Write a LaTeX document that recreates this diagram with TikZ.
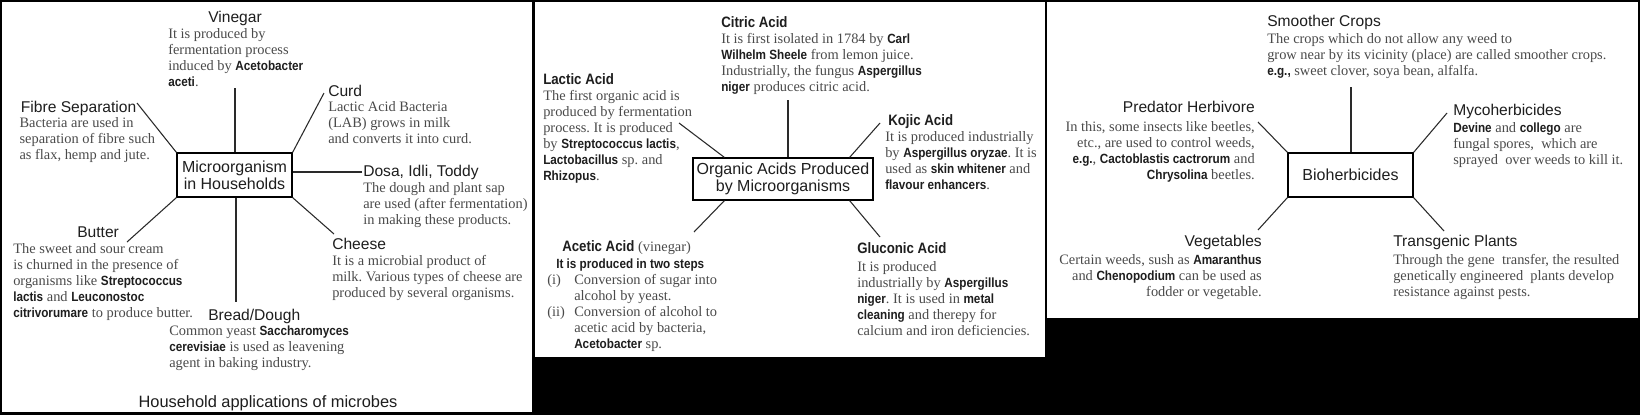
\documentclass[tikz,border=0pt]{standalone}
\usepackage{fontspec}
\setmainfont{Liberation Serif}
\setsansfont{Liberation Sans}
\newfontfamily\nsans[FakeStretch=0.88]{Liberation Sans}
\usetikzlibrary{calc}
\frenchspacing
\definecolor{bodyc}{HTML}{4A4A4A}
\definecolor{titlec}{HTML}{1E1E1E}
\definecolor{linec}{HTML}{2A2A2A}
\newcommand{\bw}[1]{{\fontsize{10}{12}\nsans\bfseries\color{titlec}#1}}
\newcommand{\blkL}[1]{\begin{tabular}[t]{@{}l@{}}#1\end{tabular}}
\newcommand{\blkR}[1]{\begin{tabular}[t]{@{}r@{}}#1\end{tabular}}
\newcommand{\itm}[1]{\makebox[20.25pt][l]{#1}}
\newcommand{\itn}{\hspace*{20.25pt}}
\tikzset{
  body/.style={font=\frenchspacing\fontsize{10.8}{12}\selectfont, text=bodyc, inner sep=0pt, anchor=base west},
  bodyr/.style={body, anchor=base east},
  ttl/.style={font=\sffamily\fontsize{11.7}{14}\selectfont, text=titlec, inner sep=0pt, anchor=base west},
  ttlr/.style={ttl, anchor=base east},
  ttlb/.style={font=\nsans\bfseries\fontsize{11.3}{14}\selectfont, text=titlec, inner sep=0pt, anchor=base west},
  hub/.style={draw=black, line width=0.9pt, fill=white, inner sep=0pt, align=center,
    font=\sffamily\fontsize{12}{12.75}\selectfont, text=titlec},
  conn/.style={draw=linec, line width=0.8pt}
}
\begin{document}
\begin{tikzpicture}[x=0.75pt,y=-0.75pt]
\useasboundingbox (0,0) rectangle (1640,415);
\fill[black] (0,0) rectangle (1640,415);
\fill[white] (2,2) rectangle (532,412);
\fill[white] (535,2) rectangle (1045,357);
\fill[white] (1047,2) rectangle (1638,318);

% ---------- Panel 1 ----------
\node[hub, minimum width=86.25pt, minimum height=33pt] (hh) at (234.5,175) {Microorganism\\in Households};

\node[ttl, anchor=base] (vinT) at (235,22.7) {Vinegar};
\node[body] (vinB) at (168,38.3) {\blkL{It is produced by\\fermentation process\\induced by \bw{Acetobacter}\\\bw{aceti}.}};
\coordinate (vinC) at (235,88);

\node[ttl] (fibT) at (20.7,112) {Fibre Separation};
\node[body] (fibB) at (19.3,127) {\blkL{Bacteria are used in\\separation of fibre such\\as flax, hemp and jute.}};
\coordinate (fibC) at (137,103);

\node[ttl] (curT) at (328,96) {Curd};
\node[body] (curB) at (328,111.7) {\blkL{Lactic Acid Bacteria\\(LAB) grows in milk\\and converts it into curd.}};
\coordinate (curC) at (324,93);

\node[ttl] (dosT) at (363,176) {Dosa, Idli, Toddy};
\node[body] (dosB) at (363,192.7) {\blkL{The dough and plant sap\\are used (after fermentation)\\in making these products.}};
\coordinate (dosC) at (362,172);

\node[ttl] (chT) at (332,249) {Cheese};
\node[body] (chB) at (332,265) {\blkL{It is a microbial product of\\milk. Various types of cheese are\\produced by several organisms.}};
\coordinate (chC) at (334,234);

\node[ttl] (buT) at (77,237.3) {Butter};
\node[body] (buB) at (13,253.3) {\blkL{The sweet and sour cream\\is churned in the presence of\\organisms like \bw{Streptococcus}\\\bw{lactis} and \bw{Leuconostoc}\\\bw{citrivorumare} to produce butter.}};
\coordinate (buC) at (127,242);

\node[ttl] (brT) at (208,320.7) {Bread/Dough};
\node[body] (brB) at (169,335) {\blkL{Common yeast \bw{Saccharomyces}\\\bw{cerevisiae} is used as leavening\\agent in baking industry.}};
\coordinate (brC) at (236,302);

\node[ttl, anchor=base, font=\sffamily\fontsize{12.3}{14}\selectfont] (cap) at (268,407.3) {Household applications of microbes};

\draw[conn] (vinC) -- (vinC |- hh.north);
\draw[conn] (fibC) -- (hh.north west);
\draw[conn] (curC) -- (hh.north east);
\draw[conn] (dosC) -- (hh.east |- dosC);
\draw[conn] (hh.south east) -- (chC);
\draw[conn] (hh.south west) -- (buC);
\draw[conn] (brC |- hh.south) -- (brC);

% ---------- Panel 2 ----------
\node[hub, minimum width=135pt, minimum height=31.5pt] (oa) at (783,179) {Organic Acids Produced\\by Microorganisms};

\node[ttlb] (ciT) at (721,27.3) {Citric Acid};
\node[body] (ciB) at (721,43.3) {\blkL{It is first isolated in 1784 by \bw{Carl}\\\bw{Wilhelm Sheele} from lemon juice.\\Industrially, the fungus \bw{Aspergillus}\\\bw{niger} produces citric acid.}};
\coordinate (ciC) at (788,100);

\node[ttlb] (laT) at (543,84.3) {Lactic Acid};
\node[body] (laB) at (543,100) {\blkL{The first organic acid is\\produced by fermentation\\process. It is produced\\by \bw{Streptococcus lactis},\\\bw{Lactobacillus} sp. and\\\bw{Rhizopus}.}};
\coordinate (laC) at (679,123);

\node[ttlb] (acT) at (562,251.7) {Acetic Acid {\rmfamily\mdseries\fontsize{10.8}{12}\selectfont\color{bodyc}(vinegar)}};
\node[body] (acS) at (556,268) {\bw{It is produced in two steps}};
\node[body] (acB) at (547,284) {\blkL{\itm{(i)}Conversion of sugar into\\\itn alcohol by yeast.\\\itm{(ii)}Conversion of alcohol to\\\itn acetic acid by bacteria,\\\itn\bw{Acetobacter} sp.}};
\coordinate (acC) at (694,232);

\node[ttlb] (koT) at (888,125) {Kojic Acid};
\node[body] (koB) at (885,141.7) {\blkL{It is produced industrially\\by \bw{Aspergillus oryzae}. It is\\used as \bw{skin whitener} and\\\bw{flavour enhancers}.}};
\coordinate (koC) at (880,123);

\node[ttlb] (glT) at (857,253.3) {Gluconic Acid};
\node[body] (glB) at (857,271) {\blkL{It is produced\\industrially by \bw{Aspergillus}\\\bw{niger}. It is used in \bw{metal}\\\bw{cleaning} and therepy for\\calcium and iron deficiencies.}};
\coordinate (glC) at (880,237);

\draw[conn] (ciC) -- (ciC |- oa.north);
\draw[conn] (laC) -- ([xshift=24pt]oa.north west);
\draw[conn] ([xshift=24pt]oa.south west) -- (acC);
\draw[conn] ([xshift=-18pt]oa.north east) -- (koC);
\draw[conn] ([xshift=-18pt]oa.south east) -- (glC);

% ---------- Panel 3 ----------
\node[hub, minimum width=93.75pt, minimum height=33pt] (bh) at (1350.5,175) {Bioherbicides};

\node[ttl] (smT) at (1267,26) {Smoother Crops};
\node[body] (smB) at (1267,43.5) {\blkL{The crops which do not allow any weed to\\grow near by its vicinity (place) are called smoother crops.\\\bw{e.g.,} sweet clover, soya bean, alfalfa.}};
\coordinate (smC) at (1351,87);

\node[ttlr] (prT) at (1255,112.3) {Predator Herbivore};
\node[bodyr] (prB) at (1255,131) {\blkR{In this, some insects like beetles,\\etc., are used to control weeds,\\\bw{e.g.}, \bw{Cactoblastis cactrorum} and\\\bw{Chrysolina} beetles.}};
\coordinate (prC) at (1258,122);

\node[ttlr] (veT) at (1262,246) {Vegetables};
\node[bodyr] (veB) at (1262,264.3) {\blkR{Certain weeds, sush as \bw{Amaranthus}\\and \bw{Chenopodium} can be used as\\fodder or vegetable.}};
\coordinate (veC) at (1258,230);

\node[ttl] (myT) at (1453,115.7) {Mycoherbicides};
\node[body] (myB) at (1453,132.7) {\blkL{\bw{Devine} and \bw{collego} are\\fungal spores,\ \ which are\\sprayed\ \ over weeds to kill it.}};
\coordinate (myC) at (1447,113);

\node[ttl] (trT) at (1393,246) {Transgenic Plants};
\node[body] (trB) at (1393,264.3) {\blkL{Through the gene\ \ transfer, the resulted\\genetically engineered\ \ plants develop\\resistance against pests.}};
\coordinate (trC) at (1444,231);

\draw[conn] (smC) -- (smC |- bh.north);
\draw[conn] (prC) -- (bh.north west);
\draw[conn] (bh.south west) -- (veC);
\draw[conn] (bh.north east) -- (myC);
\draw[conn] (bh.south east) -- (trC);
\end{tikzpicture}
\end{document}
